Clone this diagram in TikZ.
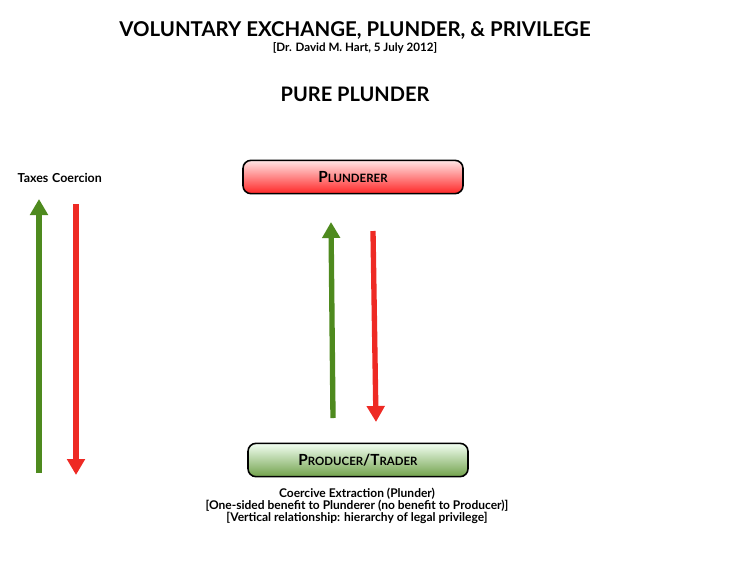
\documentclass[tikz,border=0pt]{standalone}
\usepackage{fontspec}
\setmainfont{Lato}
\usetikzlibrary{arrows.meta}
\definecolor{gr}{HTML}{4E8A1E}
\definecolor{rd}{HTML}{EE2A24}
\tikzset{
  box/.style={draw=black,line width=1.2pt,rounded corners=6pt,minimum width=165pt,minimum height=25pt,font=\bfseries\fontsize{11.5}{13}\selectfont},
  redbox/.style={box,top color=red!10,bottom color=red!85},
  greenbox/.style={box,top color=green!5!white,bottom color=gr!80},
  up/.style={draw=gr,line width=4pt,-{Triangle[length=12pt,width=13pt]}},
  down/.style={draw=rd,line width=4pt,-{Triangle[length=12pt,width=13pt]}},
  txt/.style={font=\bfseries\fontsize{9}{10.5}\selectfont,align=center}
}
\begin{document}
\begin{tikzpicture}[x=0.75pt,y=-0.75pt]
\useasboundingbox (0,0) rectangle (750,562);
\node[font=\bfseries\fontsize{15.3}{18}\selectfont] (t) at (355,30) {VOLUNTARY EXCHANGE, PLUNDER, \& PRIVILEGE};
\node[txt,font=\bfseries\fontsize{8.7}{10}\selectfont] (s) at (355,48) {[Dr. David M. Hart, 5 July 2012]};
\node[font=\bfseries\fontsize{15}{18}\selectfont] (p) at (355,94) {PURE PLUNDER};
\node[redbox] (pl) at (353,177) {P{\fontsize{8.6}{9}\selectfont LUNDERER}};
\node[greenbox] (pr) at (358,460) {P{\fontsize{8.6}{9}\selectfont RODUCER}/T{\fontsize{8.6}{9}\selectfont RADER}};
\coordinate (g1) at (333,418); \coordinate (g2) at (331,222);
\coordinate (r1) at (373,231); \coordinate (r2) at (376,422);
\draw[up] (g1) -- (g2);
\draw[down] (r1) -- (r2);
\node[txt,font=\bfseries\fontsize{9.3}{11}\selectfont] (tx) at (33,178) {Taxes};
\node[txt,font=\bfseries\fontsize{9.3}{11}\selectfont] (co) at (77,178) {Coercion};
\coordinate (lg1) at (39,473); \coordinate (lg2) at (39,199);
\coordinate (lr1) at (76,204); \coordinate (lr2) at (76,475);
\draw[up] (lg1) -- (lg2);
\draw[down] (lr1) -- (lr2);
\node[txt] (b) at (357,506) {Coercive Extraction (Plunder)\\[-1.5pt][One-sided benefit to Plunderer (no benefit to Producer)]\\[-1.5pt][Vertical relationship: hierarchy of legal privilege]};
\end{tikzpicture}
\end{document}
